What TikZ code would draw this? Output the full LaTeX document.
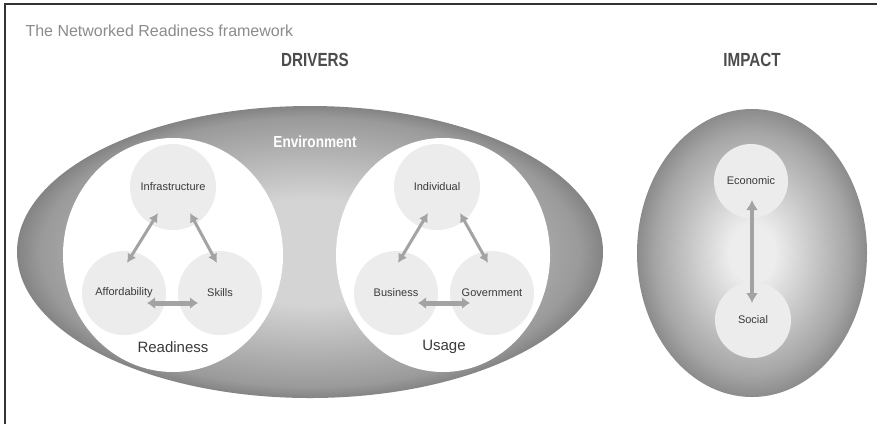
\documentclass[tikz,border=0pt]{standalone}
\usepackage{fontspec}
\setmainfont{Liberation Sans}
\usetikzlibrary{arrows.meta,calc}
\definecolor{envc}{HTML}{D4D4D4}
\definecolor{envm}{HTML}{9A9A9A}
\definecolor{envd}{HTML}{4C4C4C}
\definecolor{impc}{HTML}{EDEDED}
\definecolor{impm}{HTML}{A6A6A6}
\definecolor{impd}{HTML}{565656}
\definecolor{circfill}{HTML}{ECECEC}
\definecolor{arrcol}{HTML}{A3A3A3}
\definecolor{txtcol}{HTML}{3A3A3A}
\pgfdeclareradialshading{envshade}{\pgfpoint{0bp}{0bp}}{color(0bp)=(envc); color(9bp)=(envc); color(23bp)=(envm); color(30bp)=(envd); color(50bp)=(envd)}
\pgfdeclareradialshading{impshade}{\pgfpoint{0bp}{0bp}}{color(0bp)=(impc); color(5bp)=(impc); color(21bp)=(impm); color(33bp)=(impd); color(50bp)=(impd)}
\begin{document}
\begin{tikzpicture}[x=1pt,y=-1pt,
  bubble/.style={circle,fill=circfill,draw=none,inner sep=0pt,font=\fontsize{11}{12}\selectfont,text=txtcol},
  conn/.style={draw=arrcol,line width=3pt,{Latex[length=9pt,width=10pt]}-{Latex[length=9pt,width=10pt]}},
  connthick/.style={draw=arrcol,line width=5pt,{Latex[length=8pt,width=12pt]}-{Latex[length=8pt,width=12pt]}},
  heading/.style={font=\fontsize{19}{20}\selectfont\bfseries,text=black!70},
  grouplabel/.style={font=\fontsize{15}{16}\selectfont,text=txtcol}
]
\useasboundingbox (0,0) rectangle (877,424);
\fill[white] (0,0) rectangle (877,424);
% frame
\draw[line width=1.5pt,black!80] (877,4) -- (5,4) -- (5,424);
% title and headings
\node[anchor=west,font=\fontsize{16}{17}\selectfont,text=black!45] (title) at (22,31) {The Networked Readiness framework};
\node[heading] (drivers) at (315,60) {\scalebox{0.8}[1]{DRIVERS}};
\node[heading] (impact) at (752,60) {\scalebox{0.8}[1]{IMPACT}};
% environment ellipse
\path[shading=envshade] (310,252) ellipse [x radius=293, y radius=146];
\node[font=\fontsize{16}{17}\selectfont\bfseries,text=white] (env) at (315,142) {\scalebox{0.85}[1]{Environment}};
% inner white ellipses
\fill[white] (173,255) ellipse [x radius=110, y radius=117];
\fill[white] (443,255) ellipse [x radius=107, y radius=117];
% impact ellipse
\path[shading=impshade] (752,253) ellipse [x radius=115, y radius=144];
% readiness
\node[bubble,minimum size=86pt] (infra) at (173,187) {Infrastructure};
\node[bubble,minimum size=84pt] (aff) at (124,293) {Affordability};
\node[bubble,minimum size=84pt] (skills) at (220,293) {Skills};
\node[grouplabel] (readiness) at (173,347) {Readiness};
% usage
\node[bubble,minimum size=86pt] (indiv) at (437,187) {Individual};
\node[bubble,minimum size=84pt] (bus) at (396,293) {Business};
\node[bubble,minimum size=84pt] (gov) at (492,293) {Government};
\node[grouplabel] (usage) at (444,347) {Usage};
% impact
\node[bubble,minimum size=74pt] (econ) at (751,181) {Economic};
\node[bubble,minimum size=76pt] (social) at (753,320) {Social};
% connectors
\draw[conn] ($(infra)+(-15,26)$) -- ($(aff)+(3,-30)$);
\draw[conn] ($(infra)+(17,26)$) -- ($(skills)+(-3,-30)$);
\draw[connthick] ($(aff)+(23,10)$) -- ($(skills)+(-22,10)$);
\draw[conn] ($(indiv)+(-9,26)$) -- ($(bus)+(2,-30)$);
\draw[conn] ($(indiv)+(23,26)$) -- ($(gov)+(-4,-30)$);
\draw[connthick] ($(bus)+(22,10)$) -- ($(gov)+(-22,10)$);
\draw[draw=arrcol,line width=4.5pt,{Latex[length=10pt,width=12pt]}-{Latex[length=10pt,width=12pt]}] ($(econ)+(1,19)$) -- ($(social)+(-1,-17)$);
\end{tikzpicture}
\end{document}
